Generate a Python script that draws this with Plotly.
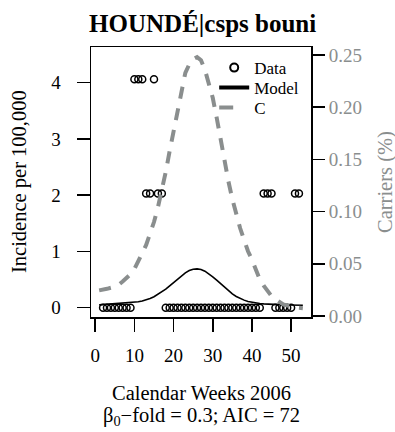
import plotly.graph_objects as go

# ---- data ----
obs_weeks = list(range(2, 53))
obs_incidence = [0, 0, 0, 0, 0, 0, 0, 0,            # weeks 2-9
                 4.06, 4.06, 4.06,                  # 10-12
                 2.03, 2.03,                        # 13-14
                 4.06,                              # 15
                 2.03, 2.03,                        # 16-17
                 0, 0, 0, 0, 0, 0, 0, 0, 0, 0,      # 18-27
                 0, 0, 0, 0, 0, 0, 0, 0, 0, 0,      # 28-37
                 0, 0, 0, 0, 0,                     # 38-42
                 2.03, 2.03, 2.03,                  # 43-45
                 0, 0, 0, 0, 0,                     # 46-50
                 2.03, 2.03]                        # 51-52

curve_weeks = list(range(1, 54))
model_incidence = [0.05, 0.055, 0.06, 0.065, 0.07, 0.075, 0.08, 0.085, 0.09, 0.095,
                   0.105, 0.12, 0.14, 0.165, 0.195, 0.235, 0.28, 0.33, 0.39, 0.45,
                   0.51, 0.57, 0.62, 0.66, 0.685, 0.69, 0.68, 0.65, 0.605, 0.55,
                   0.49, 0.425, 0.36, 0.30, 0.245, 0.20, 0.165, 0.135, 0.11, 0.095,
                   0.085, 0.075, 0.068, 0.062, 0.058, 0.055, 0.052, 0.05, 0.048, 0.046,
                   0.045, 0.044, 0.043]
carriers = [0.0245, 0.025, 0.026, 0.027, 0.028, 0.030, 0.033, 0.036, 0.040, 0.045,
            0.052, 0.060, 0.068, 0.079, 0.090, 0.104, 0.120, 0.138, 0.158, 0.178,
            0.197, 0.218, 0.233, 0.241, 0.246, 0.248, 0.245, 0.236, 0.222, 0.209,
            0.190, 0.168, 0.147, 0.129, 0.112, 0.097, 0.084, 0.073, 0.062, 0.054,
            0.045, 0.035, 0.029, 0.024, 0.019, 0.016, 0.013, 0.011, 0.010, 0.009,
            0.0083, 0.0078, 0.0074]

x_ticks = [0, 10, 20, 30, 40, 50]
y_ticks = [0, 1, 2, 3, 4]
y2_ticks = [0.0, 0.05, 0.10, 0.15, 0.20, 0.25]

title_text = "HOUNDÉ|csps bouni"
xlabel = "Calendar Weeks 2006"
sublabel = "β<sub>0</sub>−fold = 0.3; AIC = 72"
ylabel = "Incidence per 100,000"
y2label = "Carriers (%)"

GRAY = "#8a8e8e"
FONT = "Liberation Serif"

fig = go.Figure()
fig.add_trace(go.Scatter(x=obs_weeks, y=obs_incidence, mode="markers",
                         marker=dict(symbol="circle-open", size=7, color="black",
                                     line=dict(width=1.5, color="black")),
                         showlegend=False, yaxis="y", hoverinfo="skip"))
fig.add_trace(go.Scatter(x=curve_weeks, y=model_incidence, mode="lines",
                         line=dict(color="black", width=1.6),
                         showlegend=False, yaxis="y", hoverinfo="skip"))
fig.add_trace(go.Scatter(x=curve_weeks, y=carriers, mode="lines",
                         line=dict(color=GRAY, width=4, dash="12px,10px"),
                         showlegend=False, yaxis="y2", hoverinfo="skip"))
# legend entries (one legend per entry so their spacing can match)
fig.add_trace(go.Scatter(x=[None], y=[None], mode="markers", name="Data",
                         legend="legend",
                         marker=dict(symbol="circle-open", size=8, color="black",
                                     line=dict(width=2, color="black"))))
fig.add_trace(go.Scatter(x=[None], y=[None], mode="lines", name="Model",
                         legend="legend2",
                         line=dict(color="black", width=4)))
fig.add_trace(go.Scatter(x=[None], y=[None], mode="lines", name="C",
                         legend="legend3",
                         line=dict(color=GRAY, width=4, dash="14px,40px")))

leg_common = dict(x=0.56, xanchor="left", yanchor="middle",
                  bgcolor="rgba(0,0,0,0)", font=dict(size=17, family=FONT),
                  itemwidth=30, borderwidth=0)

fig.update_layout(
    width=395, height=432,
    margin=dict(l=91, r=84, t=47, b=115),
    paper_bgcolor="white", plot_bgcolor="white",
    font=dict(family=FONT, color="black", size=19),
    title=dict(text="<b>" + title_text + "</b>", x=0.513, xanchor="center",
               y=0.947, yanchor="middle", font=dict(size=25, family=FONT)),
    xaxis=dict(range=[-1.08, 55.08], tickvals=x_ticks, ticks="outside", ticklen=13,
               tickwidth=1.5, tickcolor="black", showline=True, linecolor="black",
               linewidth=1.5, mirror=True, showgrid=False, zeroline=False,
               ticklabelstandoff=8, tickfont=dict(size=19)),
    yaxis=dict(range=[-0.165, 4.635], tickvals=y_ticks, ticks="outside", ticklen=13,
               tickwidth=1.5, tickcolor="black", showline=True, linecolor="black",
               linewidth=1.5, mirror=True, showgrid=False, zeroline=False,
               ticklabelstandoff=12, tickfont=dict(size=19)),
    yaxis2=dict(range=[-0.001, 0.2577], tickvals=y2_ticks, tickformat=".2f",
                overlaying="y", side="right", ticks="outside", ticklen=13,
                tickwidth=1.5, tickcolor="black", showline=False, showgrid=False,
                zeroline=False, ticklabelstandoff=0,
                tickfont=dict(size=19, color=GRAY)),
    legend=dict(y=0.922, **leg_common),
    legend2=dict(y=0.848, **leg_common),
    legend3=dict(y=0.774, **leg_common),
    annotations=[
        dict(text=xlabel, xref="paper", yref="paper", x=0.5, y=0, yshift=-76,
             showarrow=False, font=dict(size=20.5), xanchor="center", yanchor="middle"),
        dict(text=sublabel, xref="paper", yref="paper", x=0.5, y=0, yshift=-99,
             showarrow=False, font=dict(size=20.5), xanchor="center", yanchor="middle"),
        dict(text=ylabel, xref="paper", yref="paper", x=0, xshift=-72, y=0.5,
             showarrow=False, font=dict(size=20.5), textangle=-90,
             xanchor="center", yanchor="middle"),
        dict(text=y2label, xref="paper", yref="paper", x=1, xshift=74, y=0.5,
             showarrow=False, font=dict(size=20.5, color=GRAY), textangle=-90,
             xanchor="center", yanchor="middle"),
    ],
)

fig.write_html("out.html", config={"displayModeBar": False, "staticPlot": True},
               post_script="document.body.style.margin='0';document.body.style.padding='0';")
